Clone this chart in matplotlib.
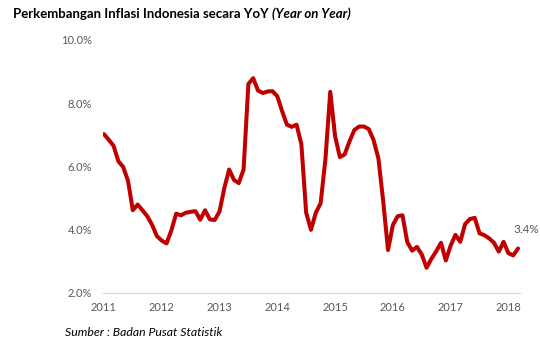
import numpy as np
import matplotlib
matplotlib.use("Agg")
import matplotlib.pyplot as plt

plt.rcParams['font.family'] = ['Lato', 'DejaVu Sans']

# monthly YoY inflation, Jan 2011 .. Mar 2018 (%)
inflasi = [
    7.02, 6.84, 6.65, 6.16, 5.98, 5.54, 4.61, 4.79, 4.61, 4.42, 4.15, 3.79,
    3.65, 3.56, 3.97, 4.50, 4.45, 4.53, 4.56, 4.58, 4.31, 4.61, 4.32, 4.30,
    4.57, 5.31, 5.90, 5.57, 5.47, 5.90, 8.61, 8.79, 8.40, 8.32, 8.37, 8.38,
    8.22, 7.75, 7.32, 7.25, 7.32, 6.70, 4.53, 3.99, 4.53, 4.83, 6.23, 8.36,
    6.96, 6.29, 6.38, 6.79, 7.15, 7.26, 7.26, 7.18, 6.83, 6.25, 4.89, 3.35,
    4.14, 4.42, 4.45, 3.60, 3.33, 3.45, 3.21, 2.79, 3.07, 3.31, 3.58, 3.02,
    3.49, 3.83, 3.61, 4.17, 4.33, 4.37, 3.88, 3.82, 3.72, 3.58, 3.30, 3.61,
    3.25, 3.18, 3.40,
]
tahun = ['2011', '2012', '2013', '2014', '2015', '2016', '2017', '2018']
y_ticks = [2, 4, 6, 8, 10]

bulan = np.arange(len(inflasi))
grey = '#595959'

fig = plt.figure(figsize=(5.4, 3.52), dpi=100)
ax = fig.add_axes([0.1907, 0.1685, 0.7722, 0.7179])

ax.plot(bulan, inflasi, color='#C00000', linewidth=2.9,
        solid_joinstyle='round', solid_capstyle='round')

ax.set_xlim(-0.2, 86.4)
ax.set_ylim(2, 10)
ax.set_xticks(np.arange(len(tahun)) * 12)
ax.set_xticklabels(tahun)
ax.set_yticks(y_ticks)
ax.set_yticklabels(['%.1f%%' % v for v in y_ticks])
ax.tick_params(length=0, labelsize=8, colors=grey)
ax.tick_params(axis='x', pad=7)
ax.tick_params(axis='y', pad=8)

for s in ['top', 'right', 'left']:
    ax.spines[s].set_visible(False)
ax.spines['bottom'].set_color('#D9D9D9')
ax.spines['bottom'].set_linewidth(1)

ax.annotate('%.1f%%' % inflasi[-1], (bulan[-1], inflasi[-1]),
            xytext=(6, 10), textcoords='offset points',
            fontsize=8.5, color=grey, ha='center', va='bottom')

t = fig.text(13 / 540, 1 - 14 / 352, 'Perkembangan Inflasi Indonesia secara YoY ',
             fontsize=9.5, fontweight='bold', va='center', ha='left')
fig.canvas.draw()
bb = t.get_window_extent()
fig.text(bb.x1 / fig.bbox.width, 1 - 14 / 352, '(Year on Year)',
         fontsize=9.5, fontweight='bold', fontstyle='italic', va='center', ha='left')

fig.text(65 / 540, 1 - 333 / 352, 'Sumber : Badan Pusat Statistik',
         fontsize=8.8, fontstyle='italic', va='center', ha='left')

fig.savefig('out.png', dpi=100)
